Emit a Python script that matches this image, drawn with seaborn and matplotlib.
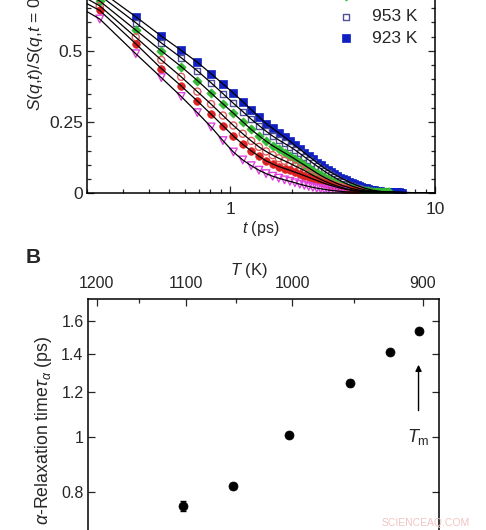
import numpy as np
import pandas as pd
import matplotlib
matplotlib.use("Agg")
import matplotlib.pyplot as plt
import seaborn as sns
from matplotlib.ticker import MultipleLocator, NullLocator, FixedLocator

# Panel A - intermediate scattering function, one value every 0.115 ps
t_ps = [0.115, 0.23, 0.345, 0.46, 0.575, 0.69, 0.805, 0.92, 1.035, 1.15,
        1.265, 1.38, 1.495, 1.61, 1.725, 1.84, 1.955, 2.07, 2.185, 2.3,
        2.415, 2.53, 2.645, 2.76, 2.875, 2.99, 3.105, 3.22, 3.335, 3.45,
        3.565, 3.68, 3.795, 3.91, 4.025, 4.14, 4.255, 4.37, 4.485, 4.6,
        4.715, 4.83, 4.945, 5.06, 5.175, 5.29, 5.405, 5.52, 5.635, 5.75,
        5.865, 5.98, 6.095, 6.21, 6.325, 6.44, 6.555, 6.67, 6.785, 6.9]

s_1153 = [0.738, 0.612, 0.490, 0.406, 0.340, 0.283, 0.233, 0.185, 0.145, 0.117,
          0.097, 0.081, 0.069, 0.060, 0.053, 0.047, 0.042, 0.037, 0.032, 0.028,
          0.024, 0.021, 0.018, 0.016, 0.014, 0.012, 0.010, 0.009, 0.008, 0.007,
          0.006, 0.005]
s_1103 = [0.757, 0.642, 0.525, 0.438, 0.377, 0.324, 0.278, 0.237, 0.201, 0.172,
          0.149, 0.130, 0.114, 0.103, 0.094, 0.087, 0.081, 0.074, 0.068, 0.062,
          0.056, 0.050, 0.045, 0.040, 0.035, 0.031, 0.027, 0.024, 0.021, 0.018,
          0.016, 0.014, 0.012, 0.010, 0.009, 0.008]
s_1053 = [0.78, 0.658, 0.548, 0.468, 0.409, 0.357, 0.313, 0.273, 0.238, 0.209,
          0.184, 0.163, 0.147, 0.134, 0.123, 0.114, 0.105, 0.096, 0.088, 0.080,
          0.071, 0.063, 0.056, 0.049, 0.043, 0.038, 0.033, 0.029, 0.025, 0.022,
          0.019, 0.016, 0.014, 0.012, 0.010, 0.009, 0.008, 0.007]
s_1003 = [0.79, 0.675, 0.573, 0.500, 0.445, 0.396, 0.352, 0.314, 0.281, 0.251,
          0.224, 0.202, 0.183, 0.167, 0.154, 0.142, 0.131, 0.120, 0.109, 0.099,
          0.089, 0.080, 0.071, 0.063, 0.056, 0.050, 0.044, 0.039, 0.034, 0.030,
          0.026, 0.023, 0.020, 0.017, 0.015, 0.013, 0.011, 0.010, 0.009, 0.008,
          0.007, 0.006, 0.006, 0.005, 0.005, 0.004, 0.004, 0.004, 0.003, 0.003,
          0.003, 0.003]
s_953 = [0.82, 0.695, 0.599, 0.528, 0.476, 0.430, 0.388, 0.350, 0.316, 0.287,
         0.260, 0.238, 0.218, 0.201, 0.187, 0.175, 0.164, 0.152, 0.140, 0.128,
         0.117, 0.106, 0.096, 0.087, 0.078, 0.070, 0.063, 0.056, 0.050, 0.044,
         0.039, 0.034, 0.030, 0.026, 0.023, 0.020, 0.017, 0.015, 0.013, 0.011,
         0.010, 0.009, 0.008, 0.007, 0.006, 0.005, 0.005, 0.004]
s_923 = [0.83, 0.712, 0.620, 0.552, 0.502, 0.460, 0.420, 0.384, 0.352, 0.322,
         0.294, 0.268, 0.245, 0.228, 0.212, 0.197, 0.183, 0.168, 0.155, 0.142,
         0.130, 0.119, 0.108, 0.098, 0.089, 0.081, 0.074, 0.067, 0.061, 0.055,
         0.050, 0.045, 0.040, 0.036, 0.032, 0.028, 0.025, 0.022, 0.019, 0.017,
         0.015, 0.013, 0.011, 0.010, 0.009, 0.008, 0.007, 0.006, 0.006, 0.005,
         0.005, 0.004, 0.004, 0.004, 0.003, 0.003, 0.003, 0.003, 0.002, 0.002]

# fit lines run on at zero out to the end of the axis
fit_end_t = 10.0
fit_end_s = 0.0

series_labels = ['1153 K', '1103 K', '1053 K', '1003 K', '953 K', '923 K']
series_values = [s_1153, s_1103, s_1053, s_1003, s_953, s_923]

# Panel B - alpha relaxation time
T_K = [1103, 1053, 1003, 953, 923, 903]
tau_ps = [0.755, 0.818, 1.008, 1.245, 1.413, 1.539]
tau_err = [0.016, 0.010, 0.006, 0.014, 0.007, 0.006]
T_ticks = [1200, 1100, 1000, 900]
T_minor = [1150, 1050, 950]
tau_ticks = [0.8, 1.0, 1.2, 1.4, 1.6]
tau_ticklabels = ['0.8', '1', '1.2', '1.4', '1.6']

sns.set_style('ticks')
plt.rcParams['font.family'] = ['Liberation Sans', 'DejaVu Sans']
plt.rcParams['mathtext.fontset'] = 'custom'
plt.rcParams['mathtext.rm'] = 'Liberation Sans'
plt.rcParams['mathtext.it'] = 'Liberation Sans:italic'
plt.rcParams['mathtext.bf'] = 'Liberation Sans:bold'

styles = {
    '1153 K': dict(marker='v', s=30, facecolor='none', edgecolor='#dd44dd', linewidth=1.0),
    '1103 K': dict(marker='o', s=30, facecolor='#dd2222', edgecolor='#dd2222', linewidth=0.5),
    '1053 K': dict(marker='o', s=26, facecolor='none', edgecolor='#e06060', linewidth=1.0),
    '1003 K': dict(marker='D', s=22, facecolor='#33bb33', edgecolor='#33bb33', linewidth=0.5),
    '953 K': dict(marker='s', s=24, facecolor='white', edgecolor='#505098', linewidth=1.0),
    '923 K': dict(marker='s', s=27, facecolor='#1020c0', edgecolor='#1020c0', linewidth=0.5),
}

fig = plt.figure(figsize=(4.86, 5.30), dpi=100)

# Graph A - slowest series drawn first so the fast ones sit on top near zero
ax_a = fig.add_axes([0.1796, 0.6353, 0.7154, 0.5374])
for label, vals in reversed(list(zip(series_labels, series_values))):
    t_vals = t_ps[:len(vals)]
    sns.scatterplot(x=t_vals, y=vals, ax=ax_a, label=label, zorder=2, **styles[label])
for label, vals in zip(series_labels, series_values):
    line_df = pd.DataFrame({'t': t_ps[:len(vals)] + [fit_end_t], 's': vals + [fit_end_s]})
    sns.lineplot(data=line_df, x='t', y='s', ax=ax_a, color='black', linewidth=0.9,
                 estimator=None, sort=True, zorder=3, legend=False)

ax_a.set_xscale('log')
ax_a.set_xlim(0.2, 10)
ax_a.set_ylim(0, 1)
ax_a.xaxis.set_major_locator(FixedLocator([1, 10]))
ax_a.set_xticklabels(['1', '10'])
ax_a.yaxis.set_major_locator(FixedLocator([0, 0.25, 0.5, 0.75, 1.0]))
ax_a.set_yticklabels(['0', '0.25', '0.5', '0.75', '1'])
ax_a.yaxis.set_minor_locator(MultipleLocator(0.05))
ax_a.tick_params(which='both', direction='in', top=True, right=True, labelsize=12.5, width=0.9)
ax_a.tick_params(which='major', length=5)
ax_a.tick_params(axis='y', which='major', pad=3)
ax_a.tick_params(axis='x', which='major', pad=6)
ax_a.tick_params(which='minor', length=3)
ax_a.set_xlabel(r'$t$ (ps)', fontsize=11.5, labelpad=2)
ax_a.set_ylabel(r'$S$($q$,$t$)/$S$($q$,$t$ = 0)', fontsize=12.5, labelpad=3)
for sp in ax_a.spines.values():
    sp.set_linewidth(1.1)
    sp.set_color('black')
handles, labels = ax_a.get_legend_handles_labels()
order = [labels.index(lb) for lb in series_labels]
ax_a.legend([handles[i] for i in order], [labels[i] for i in order],
            loc='lower left', bbox_to_anchor=(0.68, 0.47), frameon=False, fontsize=12.5,
            handlelength=1.0, handletextpad=1.0, labelspacing=0.35, borderpad=0.3)

# Graph B
inv_T = [1000.0 / T for T in T_K]
ax_b = fig.add_axes([0.1805, -0.0611, 0.7222, 0.4964])
ax_b.errorbar(inv_T, tau_ps, yerr=tau_err, fmt='none', ecolor='black', elinewidth=1.0,
              capsize=2.5, capthick=1.0, zorder=2)
sns.scatterplot(x=inv_T, y=tau_ps, ax=ax_b, color='black', s=42, edgecolor='black',
                linewidth=0.5, zorder=3, legend=False)
ax_b.set_yscale('log')
ax_b.set_ylim(0.6, 1.75)
ax_b.set_xlim(1000 / 1211, 1000 / 889.2)
ax_b.yaxis.set_major_locator(FixedLocator(tau_ticks))
ax_b.yaxis.set_minor_locator(NullLocator())
ax_b.set_yticklabels(tau_ticklabels)
ax_b.xaxis.tick_top()
ax_b.xaxis.set_label_position('top')
ax_b.xaxis.set_major_locator(FixedLocator([1000 / T for T in T_ticks]))
ax_b.xaxis.set_minor_locator(FixedLocator([1000 / T for T in T_minor]))
ax_b.set_xticklabels([str(T) for T in T_ticks])
ax_b.tick_params(which='both', direction='in', top=True, bottom=False, right=True,
                 labelsize=11.5, width=0.9)
ax_b.tick_params(which='major', length=5)
ax_b.tick_params(axis='x', which='major', pad=6)
ax_b.tick_params(axis='y', which='major', pad=3)
ax_b.tick_params(which='minor', length=3)
ax_b.set_xlabel(r'$T$ (K)', fontsize=12, labelpad=3)
ax_b.xaxis.set_label_coords(0.46, 1.0 + 24 / 263.0)
ax_b.set_ylabel(r'$\alpha$-Relaxation time$\tau_{\alpha}$ (ps)', fontsize=12.8, labelpad=5)
for sp in ax_b.spines.values():
    sp.set_linewidth(1.1)
    sp.set_color('black')

# arrow pointing at the melting point
ax_b.annotate('', xy=(1000 / 903, 1.356), xytext=(1000 / 903, 1.10),
              arrowprops=dict(arrowstyle='-|>', color='black', lw=1.0, mutation_scale=9))
ax_b.text(1000 / 903, 1.0, r'$T_{\rm m}$', fontsize=13, ha='center', va='center')

fig.text(0.068, 0.515, 'B', fontsize=15, fontweight='bold', ha='center', va='center')
fig.text(0.875, 0.014, 'SCIENCEAQ.COM', fontsize=7.5, color='#f2c4c4', ha='center', va='center')

plt.savefig('out.png', dpi=100)
